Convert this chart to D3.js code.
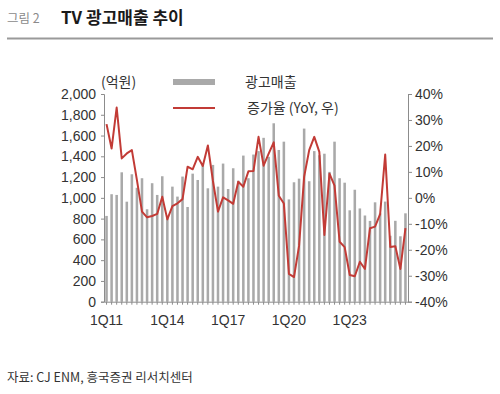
<!DOCTYPE html>
<html>
<head>
<meta charset="utf-8">
<script src="https://cdn.jsdelivr.net/npm/d3@7"></script>
<style>
  body { margin: 0; background: #fff; }
  svg text { font-family: "Liberation Sans", Arial, "Noto Sans CJK KR", sans-serif; }
  .kr { font-family: "Noto Sans CJK KR", "Noto Sans", sans-serif; }
</style>
</head>
<body>
<div class="board"></div>
<script>
// quarterly TV ad revenue (억원) and YoY growth (%)
const years = d3.range(11, 26);
const quarters = years.flatMap(y => [1, 2, 3, 4].map(q => q + "Q" + y));
const xLabels = ["1Q11", "1Q14", "1Q17", "1Q20", "1Q23"];

const revenue = [
  826, 1035, 1028, 1246, 963, 1227, 1097, 1189, 890, 1141, 1028, 1208,
  820, 1108, 1012, 1205, 912, 1233, 1172, 1330, 1092, 1317, 1108, 1330,
  1085, 1285, 1165, 1407, 1189, 1417, 1450, 1578, 1395, 1718, 1461, 1541,
  985, 1150, 1185, 1667, 1160, 1450, 1410, 1425, 1250, 1541, 1189, 1146,
  880, 1078, 898, 830, 778, 957, 850, 964, 635, 779, 630, 851
];
const yoy = [
  28.4, 19, 34.8, 15.2, 17.1, 18.4, 6.8, -5.3, -7.5, -7, -6.2, 0.4,
  -8.3, -3.2, -2.1, -0.5, 12, 11, 15.8, 12.3, 20.2, 6.5, -5.3, 0.2,
  -1, -2.3, 6.2, 4.3, 10.2, 10.3, 23.5, 12.4, 17, 21.4, 0.8, -2.2,
  -29.3, -30.5, -18.5, 8.1, 18.4, 23.5, 17.7, -14.3, 9.3, 4.7, -16.9, -19,
  -29.7, -30.2, -24.6, -27.4, -11.7, -11.1, -6.3, 16.7, -18.9, -18.6, -27.4, -11.7
];
const leftTicks = d3.range(0, 2001, 200);
const rightTicks = d3.range(-40, 41, 10);

const W = 500, H = 394;
const svg = d3.select(".board").append("svg").attr("width", W).attr("height", H);

const x = d3.scaleBand().domain(quarters).range([104, 408]).paddingInner(0.5).paddingOuter(0.25);
const yL = d3.scaleLinear().domain([0, 2000]).range([301.7, 94]);
const yR = d3.scaleLinear().domain([-40, 40]).range([301.7, 94]);

// header
svg.append("text").attr("class", "kr").attr("x", 7).attr("y", 23)
  .attr("font-size", 12.5).attr("fill", "#8a8a8a").text("그림 2");
svg.append("text").attr("class", "kr").attr("x", 61).attr("y", 23.5)
  .attr("font-size", 17).attr("font-weight", "bold").attr("fill", "#1a1a1a").text("TV 광고매출 추이");
svg.append("line").attr("x1", 7).attr("x2", 493).attr("y1", 38.5).attr("y2", 38.5)
  .attr("stroke", "#9a9a9a").attr("stroke-width", 2);

// bars
svg.append("g").selectAll("rect").data(revenue).join("rect")
  .attr("x", (d, i) => x(quarters[i]))
  .attr("y", d => yL(d))
  .attr("width", x.bandwidth())
  .attr("height", d => yL(0) - yL(d))
  .attr("fill", "#a9a9a9");

// growth line
const line = d3.line().x((d, i) => x(quarters[i]) + x.bandwidth() / 2).y(d => yR(d));
svg.append("path").datum(yoy).attr("d", line)
  .attr("fill", "none").attr("stroke", "#c23b36").attr("stroke-width", 2).attr("stroke-linejoin", "round");

// axes
function styleAxis(g) {
  g.selectAll(".domain, .tick line").attr("stroke", "#8c8c8c");
  g.selectAll(".tick text").attr("fill", "#333").attr("font-size", 14);
}
svg.append("g").attr("transform", "translate(104,0)")
  .call(d3.axisLeft(yL).tickValues(leftTicks).tickSize(3).tickSizeOuter(3).tickPadding(5).tickFormat(d3.format(",")))
  .call(styleAxis);
svg.append("g").attr("transform", "translate(408,0)")
  .call(d3.axisRight(yR).tickValues(rightTicks).tickSize(4).tickSizeOuter(4).tickPadding(3).tickFormat(d => d + "%"))
  .call(styleAxis);
svg.append("g").attr("transform", "translate(0,301.7)")
  .call(d3.axisBottom(x).tickSize(3).tickSizeOuter(0).tickPadding(10)
    .tickFormat(d => xLabels.includes(d) ? d : ""))
  .call(styleAxis);

// unit + legend
svg.append("text").attr("class", "kr").attr("x", 101).attr("y", 87)
  .attr("font-size", 14).attr("fill", "#333").text("(억원)");
svg.append("rect").attr("x", 173).attr("y", 79).attr("width", 42).attr("height", 6).attr("fill", "#a9a9a9");
svg.append("text").attr("class", "kr").attr("x", 245).attr("y", 87)
  .attr("font-size", 14).attr("fill", "#333").text("광고매출");
svg.append("line").attr("x1", 173).attr("x2", 215).attr("y1", 108).attr("y2", 108)
  .attr("stroke", "#c23b36").attr("stroke-width", 2);
svg.append("text").attr("class", "kr").attr("x", 247).attr("y", 113)
  .attr("font-size", 14).attr("fill", "#333").text("증가율 (YoY, 우)");

// source
svg.append("text").attr("class", "kr").attr("x", 7).attr("y", 382)
  .attr("font-size", 12.5).attr("fill", "#333").text("자료: CJ ENM, 흥국증권 리서치센터");
</script>
</body>
</html>
